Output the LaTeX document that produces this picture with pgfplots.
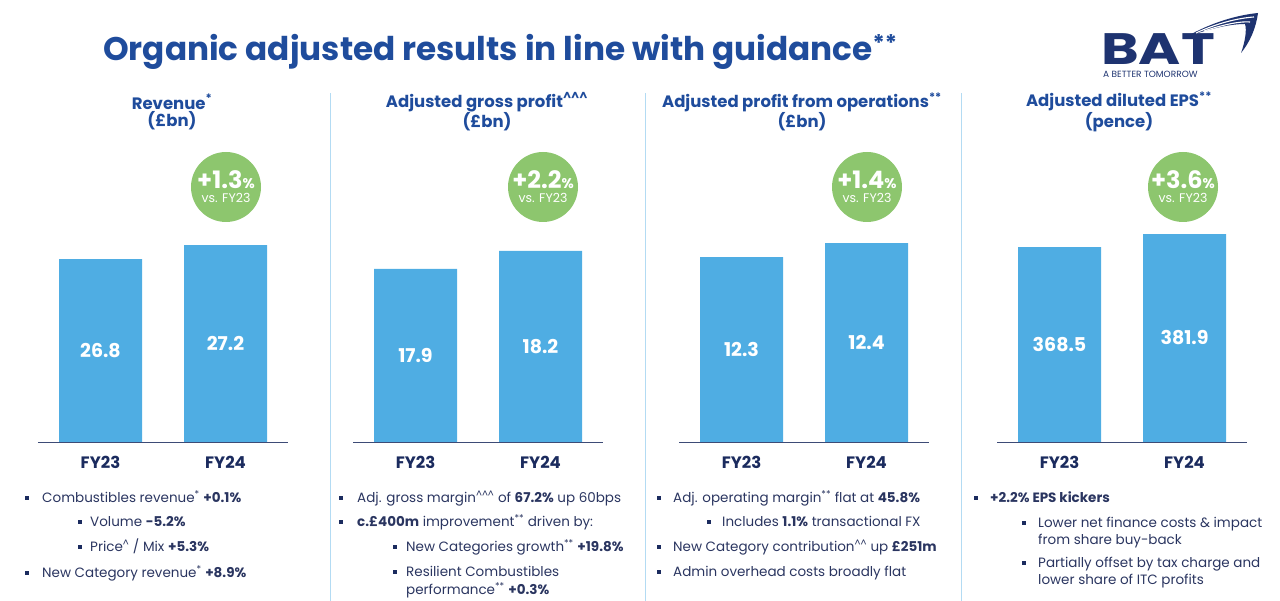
\documentclass[border=0pt]{standalone}
\usepackage{fontspec}
\setmainfont{Poppins}
\usepackage{pgfplots}
\pgfplotsset{compat=1.18}
\definecolor{barblue}{HTML}{4FADE3}
\definecolor{navy}{HTML}{1B2B5E}
\definecolor{titleblue}{HTML}{1F4C9C}
\definecolor{bgreen}{HTML}{8DC66E}
\definecolor{divider}{HTML}{B3DBF3}
\definecolor{txt}{HTML}{2A3560}
\definecolor{logo}{HTML}{1E3370}
\pgfplotsset{panel/.style={
  scale only axis, width=250pt, height=220pt, anchor=south west,
  xmin=-0.5, xmax=1.5, ybar, bar width=83pt,
  axis x line*=bottom, hide y axis,
  x axis line style={navy!85, line width=0.9pt, -},
  xtick={0,1}, xticklabels={FY23,FY24}, major tick length=0pt,
  xticklabel style={font=\fontsize{16.5}{18}\selectfont\bfseries, text=navy, yshift=-11pt},
  ytick=\empty,
}}
\newcommand{\tl}[3]{\node[anchor=base west, inner sep=0pt, text=txt, font=\fontsize{13.5}{16}\selectfont] at (#1,{601-#2-5}) {#3};}
\newcommand{\sq}[2]{\fill[navy] (#1-2.2,{601-#2-2.2}) rectangle (#1+2.2,{601-#2+2.2});}
\newcommand{\ptitle}[3]{\node[align=center, text=titleblue, font=\fontsize{16.5}{17}\selectfont\bfseries, inner sep=0pt] at (#1,{601-112}) {#2\\#3};}
\newcommand{\gcirc}[2]{%
  \fill[bgreen] (#1,{601-187}) circle (35);
  \node[text=white, font=\fontsize{24}{26}\selectfont\bfseries, inner sep=0pt, text depth=0pt, anchor=base] at (#1,{601-189}) {#2{\fontsize{14}{15}\selectfont\%}};
  \node[text=white, font=\fontsize{12.5}{14}\selectfont, inner sep=0pt, text height=7pt, anchor=base] at (#1,{601-203}) {vs. FY23};}
\begin{document}
\begin{tikzpicture}[x=1pt,y=1pt]
\useasboundingbox (0,0) rectangle (1280,601);
\coordinate (p1) at (38,159);
\coordinate (p2) at (353,159);
\coordinate (p3) at (679,159);
\coordinate (p4) at (997,159);
% title
\node[anchor=base west, inner sep=0pt, text=titleblue, font=\fontsize{32.7}{35}\selectfont\bfseries] at (103,{601-61}) {Organic adjusted results in line with guidance\textsuperscript{**}};
% logo
\node[anchor=base west, inner sep=0pt, text depth=0pt, text=logo, font=\fontsize{44}{44}\selectfont\bfseries] at (1101,{601-65}) {\scalebox{1.3}[1]{BAT}};
\node[anchor=base west, inner sep=0pt, text height=6pt, text=logo, font=\fontsize{9}{10}\selectfont] at (1103,{601-78}) {A BETTER TOMORROW};
\fill[logo] (1186,{601-37}) .. controls (1212,{601-22}) and (1238,{601-15}) .. (1258,{601-13}) .. controls (1256,{601-28}) and (1250,{601-42}) .. (1241,{601-53}) .. controls (1245,{601-42}) and (1247,{601-30}) .. (1245,{601-24}) .. controls (1228,{601-24}) and (1206,{601-30}) .. (1186,{601-37});
\draw[white, line width=1.1pt] (1196,{601-33}) .. controls (1220,{601-22}) and (1240,{601-18}) .. (1254,{601-17});
\draw[white, line width=1.1pt] (1204,{601-31}) .. controls (1222,{601-25}) and (1240,{601-21}) .. (1250,{601-22});
% dividers
\foreach \x in {330,645,961} {\draw[divider, line width=1pt] (\x,0) -- (\x,{601-93});}
% panel titles
\ptitle{172}{Revenue\textsuperscript{*}}{(£bn)}
\ptitle{487}{Adjusted gross profit\textsuperscript{\textasciicircum\textasciicircum\textasciicircum}}{(£bn)}
\ptitle{802}{Adjusted profit from operations\textsuperscript{**}}{(£bn)}
\ptitle{1119}{Adjusted diluted EPS\textsuperscript{**}}{(pence)}
% panel 1
\begin{axis}[panel, at={(p1)}, ymin=21.57, ymax=27.86]
\addplot[fill=barblue, draw=none] coordinates {(0,26.8) (1,27.2)};
\node[text=white, font=\fontsize{19}{20}\selectfont\bfseries] at (axis cs:0,24.19) {26.8};
\node[text=white, font=\fontsize{19}{20}\selectfont\bfseries] at (axis cs:1,24.39) {27.2};
\end{axis}
% panel 2
\begin{axis}[panel, at={(p2)}, ymin=15.02, ymax=18.68]
\addplot[fill=barblue, draw=none] coordinates {(0,17.9) (1,18.2)};
\node[text=white, font=\fontsize{19}{20}\selectfont\bfseries] at (axis cs:0,16.46) {17.9};
\node[text=white, font=\fontsize{19}{20}\selectfont\bfseries] at (axis cs:1,16.61) {18.2};
\end{axis}
% panel 3
\begin{axis}[panel, at={(p3)}, ymin=10.98, ymax=12.55]
\addplot[fill=barblue, draw=none] coordinates {(0,12.3) (1,12.4)};
\node[text=white, font=\fontsize{19}{20}\selectfont\bfseries] at (axis cs:0,11.64) {12.3};
\node[text=white, font=\fontsize{19}{20}\selectfont\bfseries] at (axis cs:1,11.69) {12.4};
\end{axis}
% panel 4
\begin{axis}[panel, at={(p4)}, ymin=167.5, ymax=394.3]
\addplot[fill=barblue, draw=none] coordinates {(0,368.5) (1,381.9)};
\node[text=white, font=\fontsize{19}{20}\selectfont\bfseries] at (axis cs:0,268.0) {368.5};
\node[text=white, font=\fontsize{19}{20}\selectfont\bfseries] at (axis cs:1,274.7) {381.9};
\end{axis}
% circles
\gcirc{226}{+1.3}
\gcirc{543}{+2.2}
\gcirc{867}{+1.4}
\gcirc{1183}{+3.6}
% bullets panel 1
\sq{27}{498}\tl{42}{498}{Combustibles revenue\textsuperscript{*} \textbf{+0.1\%}}
\sq{80}{522}\tl{90}{522}{Volume \textbf{-5.2\%}}
\sq{80}{547}\tl{90}{547}{Price\textsuperscript{\textasciicircum} / Mix \textbf{+5.3\%}}
\sq{27}{573}\tl{42}{573}{New Category revenue\textsuperscript{*} \textbf{+8.9\%}}
% panel 2
\sq{341}{498}\tl{357}{498}{Adj. gross margin\textsuperscript{\textasciicircum\textasciicircum\textasciicircum} of \textbf{67.2\%} up 60bps}
\sq{341}{522}\tl{357}{522}{\textbf{c.£400m} improvement\textsuperscript{**} driven by:}
\sq{395}{547}\tl{406}{547}{New Categories growth\textsuperscript{**} \textbf{+19.8\%}}
\sq{395}{572}\tl{406}{572}{Resilient Combustibles}
\tl{406}{590}{performance\textsuperscript{**} \textbf{+0.3\%}}
% panel 3
\sq{659}{498}\tl{673}{498}{Adj. operating margin\textsuperscript{**} flat at \textbf{45.8\%}}
\sq{709}{522}\tl{722}{522}{Includes \textbf{1.1\%} transactional FX}
\sq{659}{547}\tl{673}{547}{New Category contribution\textsuperscript{\textasciicircum\textasciicircum} up \textbf{£251m}}
\sq{659}{572}\tl{673}{572}{Admin overhead costs broadly flat}
% panel 4
\sq{976}{498}\tl{990}{498}{\textbf{+2.2\% EPS kickers}}
\sq{1024}{523}\tl{1038}{523}{Lower net finance costs \& impact}
\tl{1038}{540}{from share buy-back}
\sq{1024}{563}\tl{1038}{563}{Partially offset by tax charge and}
\tl{1038}{580}{lower share of ITC profits}
\end{tikzpicture}
\end{document}
